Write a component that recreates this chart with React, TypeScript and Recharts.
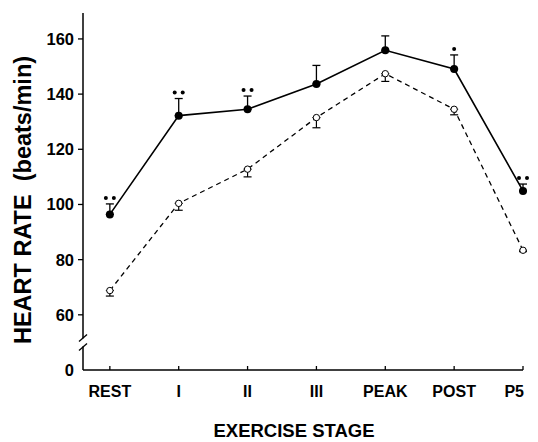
import React from 'react';
import { ComposedChart, Line, XAxis, YAxis, ErrorBar, ReferenceDot, Label } from 'recharts';

const stages = ['REST', 'I', 'II', 'III', 'PEAK', 'POST', 'P5'];
const exerciseHR = [96.4, 132.2, 134.5, 143.7, 155.9, 149.1, 104.9];
const exerciseSE = [3.8, 6.2, 4.8, 6.7, 5.2, 5.1, 2.5];
const controlHR = [68.8, 100.4, 112.8, 131.5, 147.4, 134.5, 83.4];
const controlSE = [2.0, 2.5, 2.8, 3.7, 2.8, 2.0, 0.5];
const significance = ['••', '••', '••', '', '', '•', '••'];
const xTicks = [0, 1, 2, 3, 4, 5, 6];
// 40 sits just below the axis break and is labelled "0"
const yTicks = [40, 60, 80, 100, 120, 140, 160];
const yTickLabels = ['0', '60', '80', '100', '120', '140', '160'];
const breakValue = 50;

const data = stages.map((s, i) => ({
  x: i,
  stage: s,
  ex: exerciseHR[i],
  exErr: [0, exerciseSE[i]],
  ctl: controlHR[i],
  ctlErr: [controlSE[i], 0],
  cap: exerciseHR[i] + exerciseSE[i],
  sig: significance[i],
}));

const FONT = '"Liberation Sans", Arial, Helvetica, sans-serif';

const XTick = (props: any) => {
  const { x, y, payload } = props;
  const last = payload.value === xTicks[xTicks.length - 1];
  return (
    <g>
      <line x1={x} x2={x} y1={y} y2={y - 4} stroke="#000" strokeWidth={1.3} />
      <text
        x={last ? x + 1 : x}
        y={y + 27}
        textAnchor={last ? 'end' : 'middle'}
        fontFamily={FONT}
        fontWeight="bold"
        fontSize={16}
        fill="#000"
      >
        {stages[payload.value]}
      </text>
    </g>
  );
};

const YTick = (props: any) => {
  const { x, y, payload } = props;
  const i = yTicks.indexOf(payload.value);
  const isZero = i === 0;
  return (
    <g>
      {!isZero && <line x1={x - 5} x2={x} y1={y} y2={y} stroke="#000" strokeWidth={1.3} />}
      <text
        x={x - 9}
        y={y + 6}
        textAnchor="end"
        fontFamily={FONT}
        fontWeight="bold"
        fontSize={16.5}
        fill="#000"
      >
        {yTickLabels[i]}
      </text>
    </g>
  );
};

const OpenDot = (props: any) => {
  const { cx, cy } = props;
  if (cx == null || cy == null) return <g />;
  return <circle cx={cx} cy={cy} r={3.2} fill="#fff" stroke="#000" strokeWidth={1} />;
};

const FilledDot = (props: any) => {
  const { cx, cy } = props;
  if (cx == null || cy == null) return <g />;
  return <circle cx={cx} cy={cy} r={4} fill="#000" stroke="none" />;
};

const SigDot = (props: any) => {
  const { cx, cy, payload } = props;
  if (cx == null || cy == null || !payload || !payload.sig) return <g />;
  const n = payload.sig.length;
  const yy = cy - 6;
  if (n === 1) return <circle cx={cx} cy={yy} r={2} fill="#000" />;
  return (
    <g>
      <circle cx={cx - 4} cy={yy} r={2} fill="#000" />
      <circle cx={cx + 4} cy={yy} r={2} fill="#000" />
    </g>
  );
};

const BreakMark = (props: any) => {
  const { cx, cy } = props;
  return (
    <g>
      <rect x={cx - 3} y={cy - 4} width={6} height={8} fill="#fff" />
      <line x1={cx - 4} y1={cy - 1} x2={cx + 4} y2={cy - 8} stroke="#000" strokeWidth={1.3} />
      <line x1={cx - 4} y1={cy + 8} x2={cx + 4} y2={cy + 1} stroke="#000" strokeWidth={1.3} />
    </g>
  );
};

const XTitle = (props: any) => {
  const vb = props.viewBox || {};
  return (
    <text
      x={vb.x + vb.width / 2 - 9}
      y={vb.y + 67}
      textAnchor="middle"
      fontFamily={FONT}
      fontWeight="bold"
      fontSize={18.5}
      fill="#000"
    >
      EXERCISE STAGE
    </text>
  );
};

const YTitle = (props: any) => {
  const vb = props.viewBox || {};
  const cx = vb.x + 8;
  const cy = vb.y + vb.height / 2 + 8.5;
  return (
    <text
      x={cx}
      y={cy}
      transform={`rotate(-90, ${cx}, ${cy})`}
      textAnchor="middle"
      fontFamily={FONT}
      fontWeight="bold"
      fontSize={23.5}
      fill="#000"
      style={{ whiteSpace: 'pre' }}
    >
      {'HEART RATE  (beats/min)'}
    </text>
  );
};

export default function App() {
  return (
    <div style={{ position: 'absolute', left: 0, top: 0, width: 538, height: 442, background: '#fff' }}>
      <ComposedChart
        width={538}
        height={442}
        data={data}
        margin={{ top: 13, right: 15, bottom: 42, left: 23 }}
      >
        <XAxis
          dataKey="x"
          type="number"
          domain={[-0.39, 6]}
          ticks={xTicks}
          height={30}
          tickSize={0}
          tickMargin={0}
          tickLine={false}
          axisLine={{ stroke: '#000', strokeWidth: 1.5 }}
          tick={<XTick />}
        >
          <Label content={<XTitle />} />
        </XAxis>
        <YAxis
          type="number"
          domain={[40, 169.4]}
          ticks={yTicks}
          width={60}
          tickSize={0}
          tickMargin={0}
          tickLine={false}
          axisLine={{ stroke: '#000', strokeWidth: 1.5 }}
          tick={<YTick />}
        >
          <Label content={<YTitle />} />
        </YAxis>
        <Line
          dataKey="ctl"
          stroke="#000"
          strokeWidth={1.3}
          strokeDasharray="5 4"
          dot={<OpenDot />}
          activeDot={false}
          isAnimationActive={false}
        >
          <ErrorBar dataKey="ctlErr" direction="y" width={4} stroke="#000" strokeWidth={1.2} />
        </Line>
        <Line
          dataKey="ex"
          stroke="#000"
          strokeWidth={1.6}
          dot={<FilledDot />}
          activeDot={false}
          isAnimationActive={false}
        >
          <ErrorBar dataKey="exErr" direction="y" width={4} stroke="#000" strokeWidth={1.3} />
        </Line>
        <Line
          dataKey="cap"
          stroke="none"
          dot={<SigDot />}
          activeDot={false}
          isAnimationActive={false}
        />
        <ReferenceDot
          x={-0.39}
          y={breakValue}
          r={0}
          ifOverflow="visible"
          shape={<BreakMark />}
        />
      </ComposedChart>
    </div>
  );
}
